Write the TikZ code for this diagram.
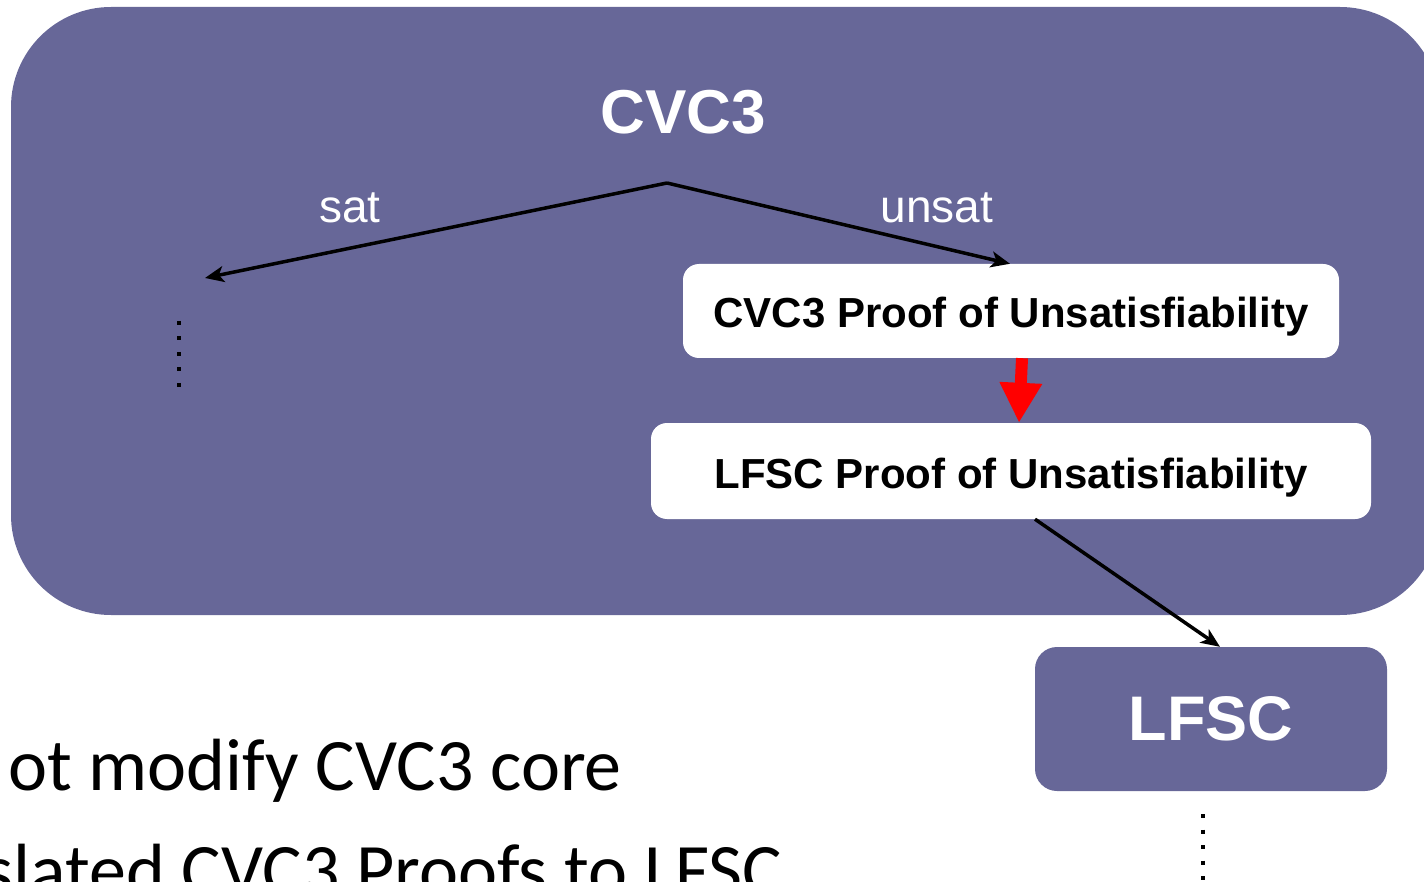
\documentclass[tikz,border=0pt]{standalone}
\usepackage{fontspec}
\setmainfont{Liberation Sans}
\newfontfamily\bodyfont{Carlito}
\usetikzlibrary{arrows.meta}
\definecolor{slate}{RGB}{103,103,152}
\begin{document}
\begin{tikzpicture}[x=1pt,y=-1pt,
  panel/.style={fill=slate, draw=none, rounded corners=100pt, minimum width=1429pt, minimum height=608pt, inner sep=0pt},
  proofbox/.style={fill=white, draw=none, rounded corners=16pt, inner sep=0pt, text height=34pt, text depth=0pt, font=\fontsize{42}{48}\selectfont\bfseries, text=black},
  toolbox/.style={fill=slate, draw=none, rounded corners=22pt, inner sep=0pt, minimum width=352pt, minimum height=144pt, font=\fontsize{63}{70}\selectfont\bfseries, text=white},
  flow/.style={draw=black, line width=3.5pt, -{Stealth[length=19pt,width=16pt,inset=5pt]}},
  bigarrow/.style={draw=red, line width=12pt, -{Triangle[length=40pt,width=40pt]}},
  lbl/.style={text=white, font=\fontsize{46}{52}\selectfont, inner sep=0pt},
  dotsline/.style={draw=black, line width=4pt, dash pattern=on 4pt off 11.5pt},
  bodytext/.style={font=\bodyfont\fontsize{74}{88}\selectfont, inner sep=0pt, text=black}
]
\useasboundingbox (0,0) rectangle (1424,882);
\clip (0,0) rectangle (1424,882);

\node[panel] (cvc) at (725.5,311) {};
\node[text=white, font=\fontsize{62}{70}\selectfont\bfseries, inner sep=0pt] (title) at (683,112) {CVC3};
\coordinate (apex) at (667,183);
\coordinate (satend) at (205,278);

\node[proofbox, minimum width=656pt, minimum height=94pt] (cproof) at (1011,311) {CVC3 Proof of Unsatisfiability};
\node[proofbox, minimum width=720pt, minimum height=96pt] (lproof) at (1011,471) {LFSC Proof of Unsatisfiability};
\node[toolbox] (lfsc) at (1211,719) {LFSC};

\node[lbl, anchor=base] (sat) at (350,223) {sat};
\node[lbl, anchor=base] (unsat) at (937,223) {unsat};

\draw[flow] (apex) -- (satend);
\draw[flow] (apex) -- ([xshift=-1pt]cproof.north);
\draw[bigarrow] ([xshift=11pt]cproof.south) -- ([xshift=8pt]lproof.north);
\draw[flow] ([xshift=24pt]lproof.south) -- ([xshift=9pt]lfsc.north);

\coordinate (ldtop) at (179,321);
\coordinate (ldbot) at (179,388);
\draw[dotsline] (ldtop) -- (ldbot);
\coordinate (rdtop) at (1203,814);
\coordinate (rdbot) at (1203,895);
\draw[dotsline] (rdtop) -- (rdbot);

\node[bodytext, anchor=base east] (line1) at (622,790) {ot modify CVC3 core};
\node[bodytext, anchor=base east] (line2) at (782,895) {slated CVC3 Proofs to LFSC};
\end{tikzpicture}
\end{document}
